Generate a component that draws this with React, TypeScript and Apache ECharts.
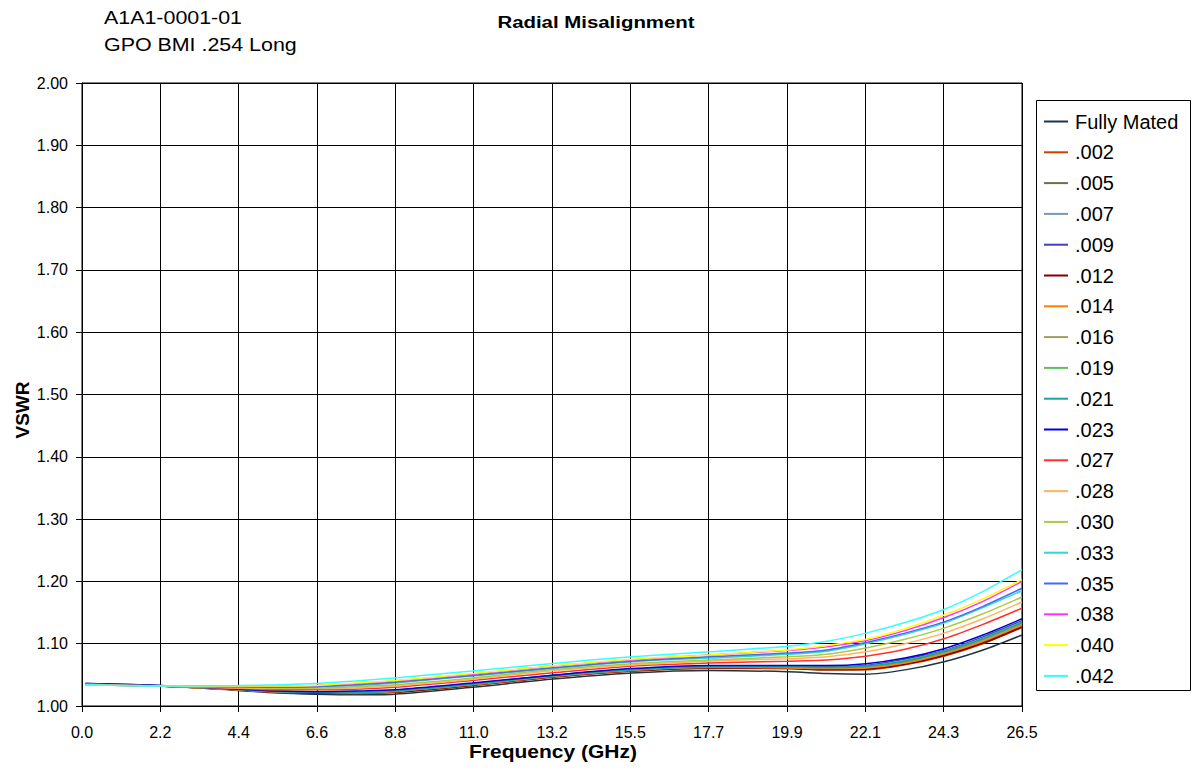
import React, { useEffect, useRef } from "react";
import * as echarts from "echarts";

const freqGHz = [0.1, 2.2, 4.4, 5.5, 6.6, 7.7, 8.8, 11.0, 13.2, 15.5, 17.7, 19.9, 21.0, 22.1, 23.2, 24.3, 25.4, 26.5];

const seriesNames = [
  "Fully Mated", ".002", ".005", ".007", ".009", ".012", ".014", ".016", ".019", ".021",
  ".023", ".027", ".028", ".030", ".033", ".035", ".038", ".040", ".042",
];

const fullyMated = [1.035, 1.032, 1.025, 1.021, 1.019, 1.018, 1.019, 1.030, 1.043, 1.053, 1.057, 1.055, 1.052, 1.051, 1.058, 1.071, 1.090, 1.114];
const m002 = [1.036, 1.032, 1.026, 1.022, 1.021, 1.020, 1.022, 1.033, 1.046, 1.056, 1.060, 1.060, 1.058, 1.058, 1.066, 1.080, 1.100, 1.126];
const m005 = [1.035, 1.032, 1.026, 1.023, 1.021, 1.021, 1.023, 1.034, 1.047, 1.057, 1.061, 1.061, 1.059, 1.060, 1.069, 1.083, 1.103, 1.129];
const m007 = [1.034, 1.032, 1.026, 1.023, 1.022, 1.022, 1.023, 1.034, 1.047, 1.057, 1.062, 1.062, 1.061, 1.062, 1.071, 1.085, 1.106, 1.132];
const m009 = [1.036, 1.033, 1.027, 1.024, 1.023, 1.023, 1.025, 1.036, 1.049, 1.059, 1.064, 1.064, 1.063, 1.065, 1.075, 1.089, 1.111, 1.137];
const m012 = [1.035, 1.032, 1.026, 1.023, 1.021, 1.021, 1.022, 1.033, 1.046, 1.056, 1.061, 1.060, 1.058, 1.059, 1.067, 1.081, 1.101, 1.127];
const m014 = [1.035, 1.032, 1.026, 1.023, 1.022, 1.021, 1.023, 1.034, 1.047, 1.057, 1.062, 1.061, 1.060, 1.061, 1.069, 1.084, 1.104, 1.130];
const m016 = [1.034, 1.032, 1.026, 1.023, 1.022, 1.022, 1.024, 1.035, 1.048, 1.058, 1.062, 1.062, 1.061, 1.063, 1.072, 1.086, 1.107, 1.133];
const m019 = [1.035, 1.033, 1.027, 1.024, 1.022, 1.022, 1.024, 1.035, 1.048, 1.058, 1.063, 1.063, 1.062, 1.064, 1.073, 1.088, 1.109, 1.135];
const m021 = [1.034, 1.032, 1.027, 1.023, 1.022, 1.022, 1.024, 1.035, 1.048, 1.058, 1.063, 1.063, 1.062, 1.064, 1.072, 1.087, 1.108, 1.134];
const m023 = [1.036, 1.033, 1.027, 1.024, 1.023, 1.024, 1.026, 1.037, 1.049, 1.060, 1.065, 1.065, 1.065, 1.068, 1.077, 1.092, 1.114, 1.140];
const m027 = [1.035, 1.032, 1.028, 1.026, 1.026, 1.027, 1.030, 1.041, 1.053, 1.064, 1.069, 1.072, 1.074, 1.080, 1.091, 1.108, 1.131, 1.157];
const m028 = [1.034, 1.032, 1.029, 1.028, 1.028, 1.029, 1.032, 1.043, 1.056, 1.066, 1.072, 1.076, 1.079, 1.087, 1.100, 1.117, 1.140, 1.167];
const m030 = [1.035, 1.032, 1.030, 1.029, 1.029, 1.031, 1.034, 1.045, 1.058, 1.068, 1.074, 1.079, 1.083, 1.093, 1.107, 1.125, 1.148, 1.175];
const m033 = [1.034, 1.032, 1.030, 1.030, 1.031, 1.033, 1.037, 1.048, 1.060, 1.071, 1.077, 1.083, 1.088, 1.100, 1.115, 1.133, 1.158, 1.185];
const m035 = [1.035, 1.032, 1.031, 1.030, 1.031, 1.034, 1.038, 1.049, 1.061, 1.072, 1.079, 1.085, 1.090, 1.102, 1.117, 1.135, 1.160, 1.189];
const m038 = [1.035, 1.032, 1.032, 1.032, 1.033, 1.036, 1.040, 1.051, 1.064, 1.074, 1.082, 1.089, 1.095, 1.105, 1.121, 1.142, 1.168, 1.200];
const m040 = [1.034, 1.032, 1.032, 1.032, 1.033, 1.037, 1.041, 1.052, 1.064, 1.075, 1.082, 1.090, 1.097, 1.107, 1.124, 1.146, 1.172, 1.203];
const m042 = [1.034, 1.032, 1.033, 1.034, 1.036, 1.040, 1.045, 1.056, 1.068, 1.079, 1.087, 1.096, 1.104, 1.117, 1.134, 1.155, 1.184, 1.219];

const seriesValues = [
  fullyMated, m002, m005, m007, m009, m012, m014, m016, m019, m021,
  m023, m027, m028, m030, m033, m035, m038, m040, m042,
];

const seriesColors = [
  "#1F3344", "#C84400", "#6E6E50", "#7896B8", "#3F3FBF", "#800000", "#FF7F00", "#9FA060", "#5FBF5F", "#1F9F9F",
  "#0000DD", "#FF3030", "#FFB366", "#A8CC3C", "#33D6D6", "#3F6FEF", "#FF33FF", "#FFFF00", "#33FFFF",
];

const xTickLabels = ["0.0", "2.2", "4.4", "6.6", "8.8", "11.0", "13.2", "15.5", "17.7", "19.9", "22.1", "24.3", "26.5"];
const xMax = 26.5;
const xStep = xMax / (xTickLabels.length - 1);

const FONT = "'Liberation Sans', Arial, sans-serif";

export default function App() {
  const ref = useRef<HTMLDivElement>(null);

  useEffect(() => {
    if (!ref.current) return;
    const chart = echarts.init(ref.current, undefined, { renderer: "svg" });
    const series = seriesNames.map((name, i) => ({
      name,
      type: "line",
      data: freqGHz.map((f, j) => [f, seriesValues[i][j]]),
      showSymbol: false,
      symbol: "none",
      smooth: 0.3,
      lineStyle: { width: 1.5, color: seriesColors[i] },
      itemStyle: { color: seriesColors[i] },
    }));

    chart.setOption({
      animation: false,
      backgroundColor: "#ffffff",
      textStyle: { fontFamily: FONT, color: "#000" },
      grid: { left: 82, top: 83, width: 940, height: 623, show: true, borderColor: "#000", borderWidth: 1 },
      xAxis: {
        type: "value",
        min: 0,
        max: xMax,
        interval: xStep,
        axisLine: { show: true, lineStyle: { color: "#000", width: 1 } },
        axisTick: { show: true, inside: false, length: 6, lineStyle: { color: "#000" } },
        axisLabel: {
          color: "#000",
          fontSize: 16,
          fontFamily: FONT,
          margin: 18,
          formatter: (v: number) => xTickLabels[Math.round(v / xStep)] ?? "",
        },
        splitLine: { show: true, lineStyle: { color: "#000", width: 1 } },
      },
      yAxis: {
        type: "value",
        min: 1,
        max: 2,
        interval: 0.1,
        axisLine: { show: true, lineStyle: { color: "#000", width: 1 } },
        axisTick: { show: true, inside: false, length: 6, lineStyle: { color: "#000" } },
        axisLabel: {
          color: "#000",
          fontSize: 16,
          fontFamily: FONT,
          margin: 14,
          formatter: (v: number) => v.toFixed(2),
        },
        splitLine: { show: true, lineStyle: { color: "#000", width: 1 } },
      },
      legend: {
        orient: "vertical",
        left: 1044,
        top: 111,
        itemWidth: 24,
        itemHeight: 2,
        itemGap: 9.8,
        icon: "rect",
        padding: 0,
        textStyle: { fontSize: 20, fontFamily: FONT, color: "#000", lineHeight: 21, padding: [0, 0, 0, 2] },
        data: seriesNames,
      },
      graphic: [
        {
          type: "rect",
          shape: { x: 1036.5, y: 100.5, width: 154, height: 590 },
          style: { fill: "none", stroke: "#000", lineWidth: 1 },
          silent: true,
        },
        {
          type: "text",
          x: 104,
          y: 18,
          scaleX: 1.19,
          style: { text: "A1A1-0001-01", font: `18px ${FONT}`, fill: "#000", textAlign: "left", textVerticalAlign: "middle" },
        },
        {
          type: "text",
          x: 104,
          y: 45,
          scaleX: 1.19,
          style: { text: "GPO BMI .254 Long", font: `18px ${FONT}`, fill: "#000", textAlign: "left", textVerticalAlign: "middle" },
        },
        {
          type: "text",
          x: 596,
          y: 22,
          scaleX: 1.2,
          style: { text: "Radial Misalignment", font: `bold 17px ${FONT}`, fill: "#000", textAlign: "center", textVerticalAlign: "middle" },
        },
        {
          type: "text",
          x: 553,
          y: 752,
          scaleX: 1.2,
          style: { text: "Frequency (GHz)", font: `bold 17.5px ${FONT}`, fill: "#000", textAlign: "center", textVerticalAlign: "middle" },
        },
        {
          type: "text",
          x: 22,
          y: 410,
          rotation: Math.PI / 2,
          style: { text: "VSWR", font: `bold 19px ${FONT}`, fill: "#000", textAlign: "center", textVerticalAlign: "middle" },
        },
      ],
      series,
    });
    return () => chart.dispose();
  }, []);

  return (
    <div
      ref={ref}
      style={{ position: "fixed", left: 0, top: 0, width: 1192, height: 770, background: "#fff" }}
    />
  );
}
